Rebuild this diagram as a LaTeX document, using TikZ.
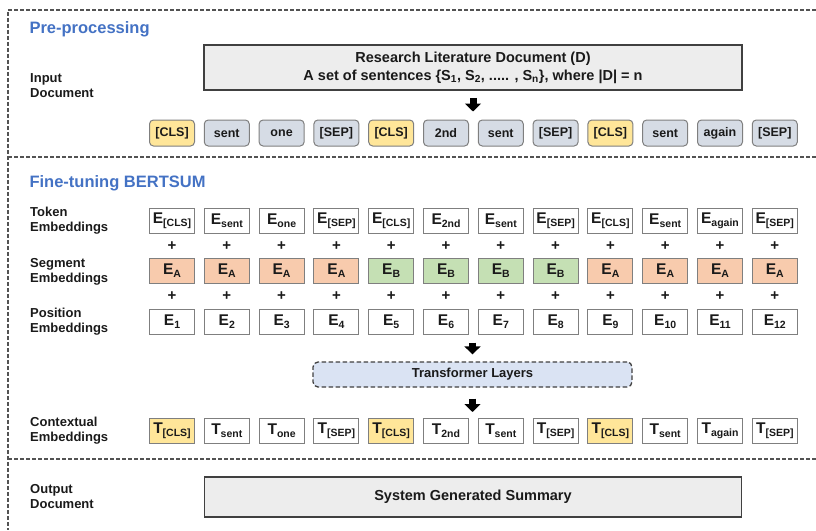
\documentclass[tikz,border=0pt]{standalone}
\usepackage{fontspec}
\setmainfont{Liberation Sans}
\usetikzlibrary{arrows.meta}
\definecolor{ttl}{HTML}{4472C4}
\definecolor{ink}{HTML}{1A1A1A}
\definecolor{clsy}{HTML}{FFE699}
\definecolor{tokg}{HTML}{D6DCE5}
\definecolor{sega}{HTML}{F8CBAD}
\definecolor{segb}{HTML}{C5E0B4}
\definecolor{trb}{HTML}{DAE3F3}
\definecolor{docg}{HTML}{EDEDED}
\definecolor{bord}{HTML}{7F7F7F}
\definecolor{dbord}{HTML}{404040}
\newcommand\mysub[1]{\raisebox{-0.4ex}{\fontsize{10.5}{11}\selectfont #1}}
\tikzset{
  frame/.style={draw=dbord!90, line width=1.2pt, dash pattern=on 4pt off 2pt},
  title/.style={anchor=west, text=ttl, font=\fontsize{16.5}{18}\selectfont\bfseries},
  rowlabel/.style={anchor=west, align=left, text=ink, font=\fontsize{13}{15}\selectfont\bfseries, inner sep=0pt},
  tok/.style={draw=bord, line width=1pt, rounded corners=4pt, minimum width=45pt, minimum height=26pt, inner sep=0pt, text=ink, font=\fontsize{12.5}{14}\selectfont\bfseries},
  emb/.style={draw=bord, line width=1pt, minimum width=45pt, minimum height=25pt, inner sep=0pt, text=ink, font=\fontsize{15.5}{16}\selectfont\bfseries},
  plus/.style={text=ink, font=\fontsize{15}{16}\selectfont\bfseries, inner sep=0pt},
  bigbox/.style={draw=dbord, line width=1.6pt, fill=docg, text=ink, align=center, font=\fontsize{14.5}{18}\selectfont\bfseries, inner sep=0pt},
  trbox/.style={draw=dbord, line width=1.3pt, dash pattern=on 4.5pt off 2.5pt, rounded corners=5pt, fill=trb, text=ink, minimum width=319pt, minimum height=25pt, inner sep=0pt, font=\fontsize{13}{15}\selectfont\bfseries},
  blockarrow/.style={line width=7pt, -{Triangle[width=16pt,length=8pt]}}
}
\begin{document}
\begin{tikzpicture}[x=1pt,y=-1pt]
\useasboundingbox (0,0) rectangle (816,530);
% outer dashed frame
\coordinate (ftl) at (8,10);
\coordinate (ftr) at (816,10);
\coordinate (fbl) at (8,530);
\coordinate (m1l) at (8,157);
\coordinate (m1r) at (816,157);
\coordinate (m2l) at (8,459);
\coordinate (m2r) at (816,459);
\draw[frame] (ftr) -- (ftl) -- (fbl);
\draw[frame] (m1l) -- (m1r);
\draw[frame] (m2l) -- (m2r);

% titles
\node[title] (tpre) at (26,29) {Pre-processing};
\node[title] (tfine) at (26,183) {Fine-tuning BERTSUM};

% row labels
\node[rowlabel] (lin) at (30,86) {Input\\Document};
\node[rowlabel] (ltok) at (30,221) {Token\\Embeddings};
\node[rowlabel] (lseg) at (30,271.5) {Segment\\Embeddings};
\node[rowlabel] (lpos) at (30,321.5) {Position\\Embeddings};
\node[rowlabel] (lctx) at (30,431) {Contextual\\Embeddings};
\node[rowlabel] (lout) at (30,496.5) {Output\\Document};

% document box
\node[bigbox, minimum width=538pt, minimum height=45pt] (doc) at (473,67.5)
  {Research Literature Document (D)\\A set of sentences \{S\textsubscript{1}, S\textsubscript{2}, ..... , S\textsubscript{n}\}, where |D| = n};

% pre-processing tokens
\foreach \i/\t/\c in {1/{[CLS]}/clsy,2/sent/tokg,3/one/tokg,4/{[SEP]}/tokg,5/{[CLS]}/clsy,6/2nd/tokg,7/sent/tokg,8/{[SEP]}/tokg,9/{[CLS]}/clsy,10/sent/tokg,11/again/tokg,12/{[SEP]}/tokg}{
  \node[tok, fill=\c] (p\i) at ({172+54.8*(\i-1)},133) {\t};
}

% token embeddings
\foreach \i/\t in {1/{[CLS]},2/sent,3/one,4/{[SEP]},5/{[CLS]},6/2nd,7/sent,8/{[SEP]},9/{[CLS]},10/sent,11/again,12/{[SEP]}}{
  \node[emb, fill=white] (t\i) at ({172+54.8*(\i-1)},220.5) {E\mysub{\t}};
  \node[plus] (pa\i) at ({172+54.8*(\i-1)},246) {+};
}
% segment embeddings
\foreach \i/\s/\c in {1/A/sega,2/A/sega,3/A/sega,4/A/sega,5/B/segb,6/B/segb,7/B/segb,8/B/segb,9/A/sega,10/A/sega,11/A/sega,12/A/sega}{
  \node[emb, fill=\c] (s\i) at ({172+54.8*(\i-1)},271) {E\mysub{\s}};
  \node[plus] (pb\i) at ({172+54.8*(\i-1)},296.5) {+};
}
% position embeddings
\foreach \i in {1,...,12}{
  \node[emb, fill=white] (e\i) at ({172+54.8*(\i-1)},321.5) {E\mysub{\i}};
}

% transformer
\node[trbox] (tr) at (472.5,374.5) {Transformer Layers};

% contextual embeddings
\foreach \i/\t/\c in {1/{[CLS]}/clsy,2/sent/white,3/one/white,4/{[SEP]}/white,5/{[CLS]}/clsy,6/2nd/white,7/sent/white,8/{[SEP]}/white,9/{[CLS]}/clsy,10/sent/white,11/again/white,12/{[SEP]}/white}{
  \node[emb, fill=\c] (c\i) at ({172+54.8*(\i-1)},431) {T\mysub{\t}};
}

% summary box
\node[bigbox, minimum width=537pt, minimum height=40pt] (sum) at (473,497) {System Generated Summary};

% arrows
\draw[blockarrow, shorten <=7pt, shorten >=8pt] (doc.south) -- (doc.south |- p1.north);
\draw[blockarrow, shorten <=8pt, shorten >=7pt] (tr.north |- e1.south) -- (tr.north);
\draw[blockarrow, shorten <=11pt, shorten >=6pt] (tr.south) -- (tr.south |- c1.north);
\end{tikzpicture}
\end{document}
